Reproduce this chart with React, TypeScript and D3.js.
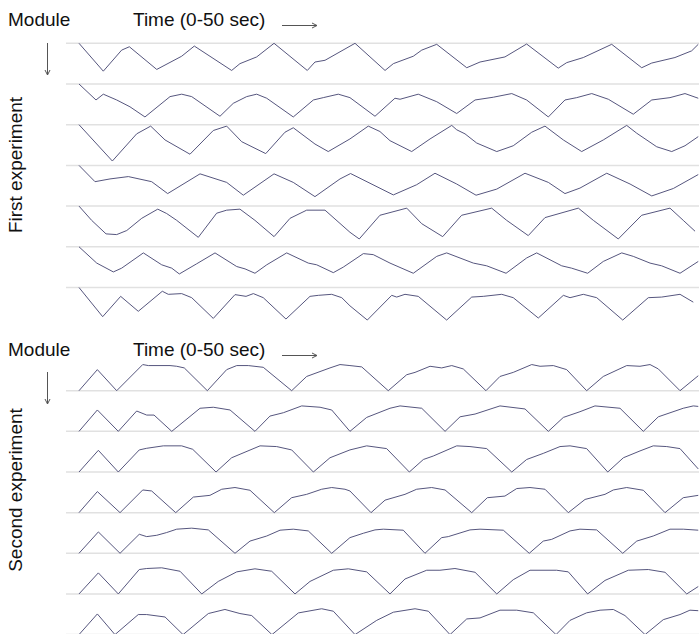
import React from "react";
import * as d3 from "d3";

type Pt = [number, number];

// Time axis (seconds) and labels
const timeDomain: [number, number] = [0, 50];
const moduleLabel = "Module";
const timeLabel = "Time (0-50 sec)";
const experimentLabels = ["First experiment", "Second experiment"];

// First experiment: activity per module [time (s), amplitude]
const exp1Module1: Pt[] = [[0,0],[1.96,27.4],[3.44,6.7],[4.06,3.4],[6.27,25.7],[8.28,12.7],[9.3,2.7],[12.31,26.7],[12.98,20],[14.33,13.4],[15.73,0],[18.41,26.7],[19.03,18.4],[19.84,16.7],[22.26,0],[24.68,26.7],[25.35,20],[26.96,12.7],[27.64,6.7],[28.85,1],[31.27,24],[32.34,18.4],[34.35,13.4],[36.1,0.7],[38.65,24.4],[39.33,19],[40.67,14],[42.96,1],[45.38,24],[46.19,19.4],[48.06,14],[49.41,7.4],[49.94,1]];
const exp1Module2: Pt[] = [[0,0],[1.37,15.7],[1.96,10],[3.04,15.7],[4.11,22.4],[5.32,32.4],[7.34,12.4],[8.28,10],[9.09,12.4],[11.37,31.7],[12.44,19],[13.52,12.4],[14.33,10],[15.14,14],[17.28,32.4],[18.9,15.7],[19.7,13.4],[20.91,10],[21.85,13.4],[23.87,31.7],[25.48,14],[25.89,15],[27.36,10],[28.85,17.4],[30.46,29],[31.94,15.7],[33.41,13],[34.9,9.4],[36.1,15.7],[37.85,32.4],[39.19,15.7],[40.14,13.4],[41.35,9.4],[42.69,15],[44.7,29.7],[46.19,15.7],[47.66,13.4],[48.87,9.4],[49.94,14]];
const exp1Module3: Pt[] = [[0,0],[2.69,35.7],[4.65,9],[5.78,1.4],[6.94,15],[8.95,29],[10.83,5.7],[11.91,1.4],[13.12,16.7],[15.06,28.4],[16.61,7.4],[17.28,3],[19.03,19],[20.1,26.4],[21.85,14],[23.33,1.4],[24.27,6.7],[25.08,15.7],[26.83,26.4],[28.31,14],[30.06,0.7],[30.46,5],[31.13,9],[32.07,18],[33.69,26.4],[35.02,20.7],[36.51,7.4],[37.58,1.4],[39.06,15],[40.54,26.4],[42.28,15],[44.17,0.7],[44.98,8.4],[46.59,21.7],[47.8,26.4],[48.87,20.7],[49.94,11.7]];
const exp1Module4: Pt[] = [[0,0],[1.29,16],[2.5,13.3],[3.98,11],[5.86,16],[7.15,27.7],[9.76,8.3],[11.91,16.7],[13.25,29.3],[15.73,8.3],[17.28,16.7],[19.03,30.7],[21.05,13.3],[21.9,8],[25.35,29],[27.23,19],[28.71,7.7],[30.46,18.3],[32.02,29.3],[33.69,23.3],[35.97,7.7],[37.85,16.7],[39.19,27.7],[40.4,22.3],[42.56,7.7],[44.44,18.3],[46.19,30],[47.93,22.7],[49.94,9]];
const exp1Module5: Pt[] = [[0,0],[1.02,14],[2.18,27.3],[3.04,28],[3.85,24],[5.06,12],[6.35,3],[7.07,7.3],[7.88,14],[9.62,30.7],[11.1,7],[11.91,4],[12.98,3],[14.19,14],[15.73,30],[17.02,12],[18.36,4],[19.84,4],[21.85,25.7],[22.6,32.3],[24.27,9],[26.43,2],[27.64,17.3],[29.33,30],[30.86,9],[33.28,2],[34.49,14],[36.23,29],[37.58,11.3],[40.27,2],[41.48,14],[43.49,32.3],[45.38,9],[47.66,2],[48.73,14],[49.68,24.7]];
const exp1Module6: Pt[] = [[0,0],[1.43,16],[2.77,24.7],[3.44,21],[5.19,6],[6.67,17.7],[7.48,21],[8.09,26.7],[9.49,16.7],[10.97,6],[12.72,19.4],[13.39,21.7],[14.19,26],[15.14,17.7],[16.75,6],[18.49,16],[19.17,17.7],[20.51,25.4],[21.31,20],[22.93,6.7],[23.73,7.7],[25.08,16],[26.96,26],[28.85,9.4],[29.65,6],[31.8,16],[32.88,18.7],[34.44,26],[36.1,11],[36.91,6],[38.93,18.7],[39.73,21],[41.02,26],[42.28,14.4],[43.77,6],[44.7,9.4],[46.05,16],[46.99,18.7],[48.47,26],[49.94,14.4]];
const exp1Module7: Pt[] = [[0,0],[1.91,28.7],[3.36,8.7],[4.78,23.4],[6.72,3.7],[7.2,6.7],[8.28,6],[9.09,10],[10.83,30.4],[12.58,7],[13.47,8.7],[14.06,6],[14.86,10],[16.69,31],[18.63,8.7],[19.3,7.7],[20.38,6.7],[21.19,10],[21.85,18],[23.25,32],[25.22,7.7],[25.62,9.4],[26.29,6.7],[27.36,8.7],[29.65,32],[31.67,9.4],[32.6,8.7],[34.09,6.7],[35.02,10],[37.04,30],[39.06,7.7],[39.6,10],[40.67,6.7],[41.75,10],[43.85,32],[45.91,10],[46.99,9.4],[48.47,6.7],[49.54,14.4]];

// Second experiment
const exp2Module1: Pt[] = [[0,0],[1.48,20.7],[3.04,0],[5.14,25.7],[5.59,24.7],[7.34,24.7],[7.88,24],[8.49,22.4],[10.35,0],[11.91,20.7],[12.72,24.7],[13.65,24.7],[14.86,23],[17.15,0],[18.36,14],[20.24,22.4],[21.05,25.7],[21.85,24.7],[22.8,23.4],[24.94,0],[26.43,15.7],[27.1,18],[28.31,24],[29.25,22.4],[30.06,24.7],[30.99,21.4],[32.82,0],[33.95,14],[35.02,18],[36.51,25.7],[37.18,24],[38.25,24.7],[39.33,20.7],[40.94,0],[42.28,14],[44.17,24.7],[45.24,24],[46.05,25.7],[46.72,21.4],[48.47,0],[49.94,14.7]];
const exp2Module2: Pt[] = [[0,0],[1.48,21],[3.17,0],[4.65,20],[5.46,16],[6.05,16],[7.48,0],[9.76,22.7],[10.83,23.7],[12.18,21],[14.19,0],[15.4,15],[16.48,18.3],[17.96,25],[19.44,23.7],[20.38,21],[21.85,0],[23.2,13.7],[25.08,22.7],[25.89,25],[27.64,22.7],[29.52,0],[30.73,14.3],[31.94,17],[33.95,25],[35.97,22],[37.85,0],[39.06,13.7],[40.4,19.3],[41.61,25],[43.63,22.7],[45.51,0],[46.72,14.3],[48.73,22.7],[49.54,25],[49.94,24.5]];
const exp2Module3: Pt[] = [[0,0],[1.56,21.3],[3.17,0],[4.86,21.7],[5.46,23.3],[6.8,25.7],[8.28,25.7],[9.17,22.3],[11.05,0],[12.31,14],[14.6,25.7],[15.94,25],[17.15,21.7],[18.9,0],[20.24,14],[21.85,21.7],[23.2,25.7],[24.81,23],[26.64,0],[27.77,12.3],[28.57,15.7],[30.46,25.7],[31.53,25],[32.88,23],[34.9,0],[36.1,12.3],[37.44,18.3],[38.79,25],[39.6,25.7],[40.94,23],[42.64,0],[43.9,14],[45.24,20.7],[46.31,25.7],[47.4,25],[48.47,23],[49.94,3]];
const exp2Module4: Pt[] = [[0,0],[1.48,20.7],[3.31,0],[5.14,22.3],[5.86,21.3],[7.8,0],[9.22,15.3],[10.56,17],[11.51,23],[12.58,24.7],[13.79,22],[15.75,0],[17.15,14.7],[18.36,18],[19.57,23],[20.38,24.7],[21.45,23],[21.85,21.3],[23.55,0],[24.68,12.3],[26.29,18],[27.23,23],[28.44,24.7],[29.52,22.3],[31.67,0],[32.93,14.7],[34.35,16.3],[35.3,23.7],[36.37,24.7],[37.58,23],[39.46,0],[40.81,13],[42.42,18],[43.09,22.3],[44.17,24.7],[45.51,22],[47.26,0],[48.73,14.7],[49.94,17]];
const exp2Module5: Pt[] = [[0,0],[1.56,21],[3.31,0],[4.86,18.7],[5.46,16.4],[6.27,17.7],[7.07,20.4],[7.88,23.7],[9.09,24.7],[10.43,23],[12.58,0],[13.79,12],[15.14,17],[16.21,22.7],[17.28,23.7],[18.49,22],[20.38,0],[21.85,15.4],[22.93,19.7],[23.87,23],[24.54,23.7],[26.15,22.7],[27.9,0],[29.25,15.4],[29.78,16.4],[31.53,23],[32.34,23.7],[34.22,22.7],[36.31,0],[37.44,12],[38.12,13.7],[39.6,22],[40.4,23.7],[41.75,23],[43.85,0],[44.98,12],[46.31,17],[47.66,23.7],[48.73,23.7],[49.94,22.7]];
const exp2Module6: Pt[] = [[0,0],[1.56,20.7],[3.17,0],[4.86,24],[5.46,25],[6.67,25.7],[8.15,22.3],[9.9,0],[11.23,12.3],[12.72,21.7],[14.19,24.7],[15.54,22.3],[17.42,0],[18.63,12.3],[20.51,23.3],[21.72,24.7],[23.2,21.7],[25.08,0],[26.29,14.7],[28.04,23.3],[29.11,23.3],[30.32,25],[31.94,21.3],[33.69,0],[35.02,14],[36.37,23.3],[38.52,23.3],[39.46,21.7],[41.02,0],[42.42,13.3],[44.3,23.3],[45.91,24],[47.26,21.3],[49.01,0],[49.94,7.3]];
const exp2Module7: Pt[] = [[0,0],[1.48,20.3],[2.9,0],[4.78,19.7],[5.46,19.7],[6.94,17.3],[8.39,0],[10.43,20.7],[11.77,24.7],[12.98,20.7],[13.93,18.7],[15.56,0],[17.69,21.3],[19.57,25.4],[20.51,23],[22.26,0],[24.01,14],[25.35,22],[27.1,25.4],[28.17,23],[29.92,0],[31.27,15.4],[32.34,16.4],[33.95,24],[35.3,24],[36.64,21.4],[38.47,0],[39.6,14],[40.94,21.4],[42.02,24],[43.09,24.7],[44.03,18.7],[45.65,0],[47.12,14.7],[48.47,19.7],[49.27,24],[49.94,23.5]];

const firstExperiment = [exp1Module1, exp1Module2, exp1Module3, exp1Module4, exp1Module5, exp1Module6, exp1Module7];
const secondExperiment = [exp2Module1, exp2Module2, exp2Module3, exp2Module4, exp2Module5, exp2Module6, exp2Module7];

const W = 699;
const H = 634;
const FONT = "Arial, 'Liberation Sans', Helvetica, sans-serif";
const TRACE = "#56567e";
const GRID = "#e1e1e1";
const ARROW = "#555555";

const x = d3.scaleLinear().domain(timeDomain).range([79, 699]);
const amp = d3.scaleLinear().domain([0, 40]).range([0, 40.7]);

interface PanelProps {
  rows: Pt[][];
  firstBase: number;
  lastBase: number;
  dir: 1 | -1;
  headerY: number;
  vArrowTop: number;
  label: string;
  labelCenter: number;
}

function Panel({ rows, firstBase, lastBase, dir, headerY, vArrowTop, label, labelCenter }: PanelProps) {
  const base = d3.scaleLinear().domain([0, rows.length - 1]).range([firstBase, lastBase]);
  return (
    <g>
      {rows.map((_, i) => (
        <line key={"g" + i} x1={66} x2={W} y1={base(i)} y2={base(i)} stroke={GRID} strokeWidth={1.5} />
      ))}
      {rows.map((r, i) => {
        const line = d3
          .line<Pt>()
          .x((d) => x(d[0]))
          .y((d) => base(i) + dir * amp(d[1]));
        return <path key={"t" + i} d={line(r) || ""} fill="none" stroke={TRACE} strokeWidth={1} />;
      })}
      <text x={8} y={headerY} fontSize={19} fontFamily={FONT} fill="#111">{moduleLabel}</text>
      <text x={133} y={headerY} fontSize={19} fontFamily={FONT} fill="#111">{timeLabel}</text>
      <line x1={282} x2={317} y1={headerY - 0.5} y2={headerY - 0.5} stroke={ARROW} strokeWidth={1} />
      <path d={`M312,${headerY - 3} L317,${headerY - 0.5} L312,${headerY + 2}`} fill="none" stroke={ARROW} strokeWidth={1} />
      <line x1={47.5} x2={47.5} y1={vArrowTop} y2={vArrowTop + 32} stroke={ARROW} strokeWidth={1} />
      <path d={`M45,${vArrowTop + 27} L47.5,${vArrowTop + 32} L50,${vArrowTop + 27}`} fill="none" stroke={ARROW} strokeWidth={1} />
      <text
        transform={`translate(22,${labelCenter}) rotate(-90)`}
        textAnchor="middle"
        fontSize={19}
        fontFamily={FONT}
        fill="#111"
      >
        {label}
      </text>
    </g>
  );
}

export default function App() {
  return (
    <svg
      width={W}
      height={H}
      style={{ position: "absolute", left: 0, top: 0, background: "#fff", display: "block" }}
    >
      <rect x={0} y={0} width={W} height={H} fill="#fff" />
      <Panel rows={firstExperiment} firstBase={43.3} lastBase={287.5} dir={1} headerY={26} vArrowTop={43} label={experimentLabels[0]} labelCenter={165} />
      <Panel rows={secondExperiment} firstBase={390.7} lastBase={634.6} dir={-1} headerY={356} vArrowTop={372} label={experimentLabels[1]} labelCenter={490} />
    </svg>
  );
}
